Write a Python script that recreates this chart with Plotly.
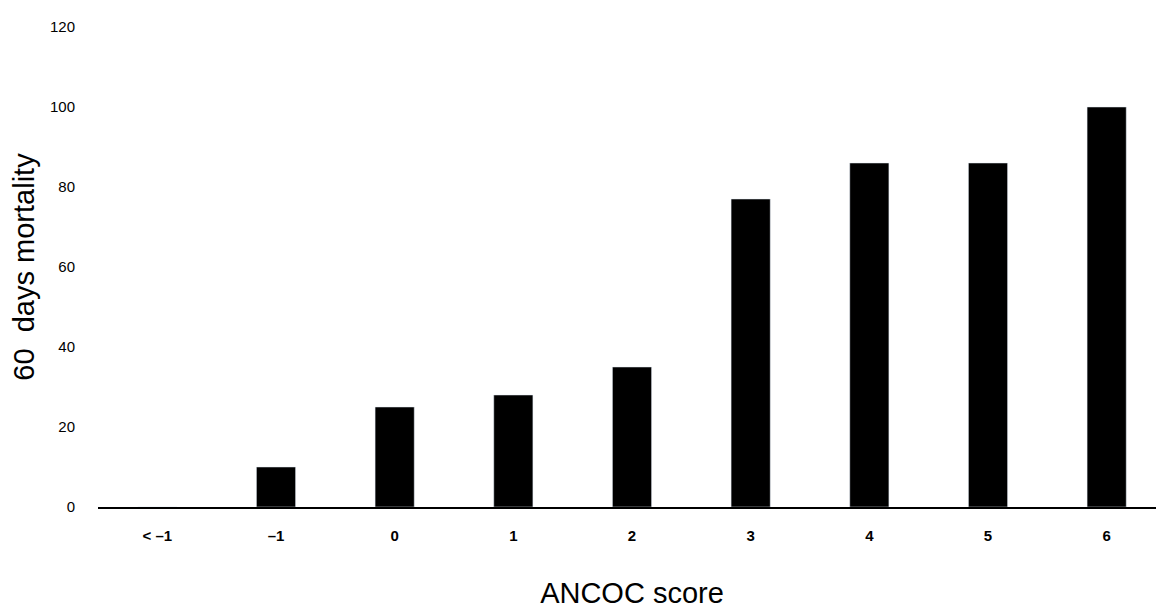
import plotly.graph_objects as go

categories = ["< \u20131", "\u20131", "0", "1", "2", "3", "4", "5", "6"]
mortality = [0, 10, 25, 28, 35, 77, 86, 86, 100]
y_ticks = [0, 20, 40, 60, 80, 100, 120]

fig = go.Figure(go.Bar(x=categories, y=mortality, marker_color="black", width=0.33))
fig.update_layout(
    width=1164, height=607, plot_bgcolor="white", paper_bgcolor="white",
    margin=dict(l=90, r=6, t=19, b=108), showlegend=False,
    font=dict(family="Liberation Sans, Arial", color="black"),
)
fig.update_xaxes(type="category", showline=True, linecolor="black", linewidth=2,
                 automargin=False, ticklabelstandoff=14,
                 tickfont=dict(size=15, family="Liberation Sans, Arial Black", weight="bold"),
                 title=dict(text="ANCOC score", font=dict(size=29), standoff=40), ticks="")
fig.update_yaxes(range=[0, 120], tickvals=y_ticks, showgrid=False, zeroline=False,
                 automargin=False, tickfont=dict(size=15), ticklabelstandoff=22,
                 title=dict(text="60  days mortality", font=dict(size=29), standoff=14))
fig.write_html("out.html")
